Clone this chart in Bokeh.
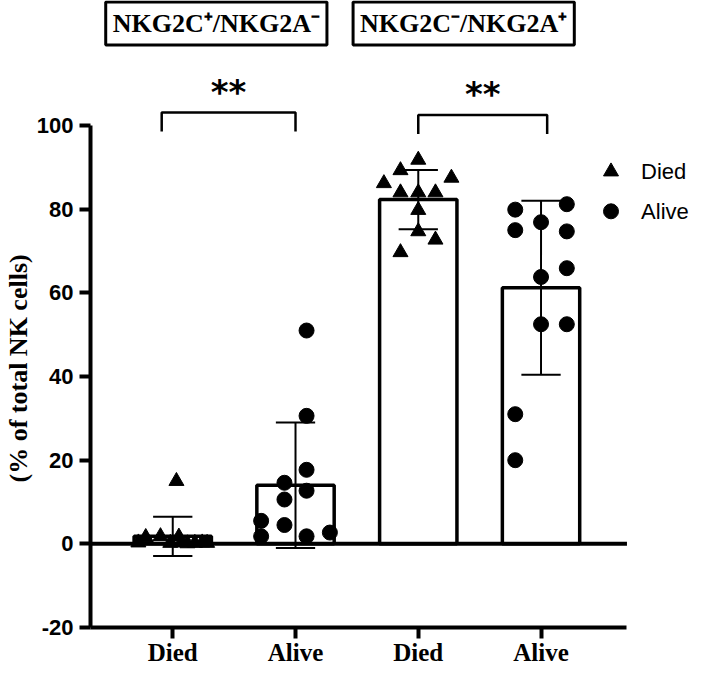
from bokeh.plotting import figure
from bokeh.models import Range1d, FixedTicker, Label, Title
from bokeh.embed import file_html
from bokeh.resources import INLINE

# ---------------- data ----------------
categories = ["Died", "Alive", "Died", "Alive"]
panel_titles = ["NKG2C\u207a/NKG2A\u207b", "NKG2C\u207b/NKG2A\u207a"]
y_ticks = [-20, 0, 20, 40, 60, 80, 100]
y_label = "(% of total NK cells)"

bar_means = [1.8, 14.0, 82.3, 61.2]
bar_sds = [4.7, 15.0, 7.1, 20.8]

# individual values (percent of total NK cells)
died_c_vals = [15.0, 1.6, 1.8, 1.7, 0.3, 0.2, 0.3, 0.1, 0.2, 0.3, 0.2]
died_c_jit = [0.03, -0.22, -0.10, 0.05, -0.28, -0.02, 0.07, 0.12, 0.18, 0.24, 0.28]
alive_c_vals = [51.0, 30.6, 17.7, 14.6, 12.7, 10.6, 5.5, 4.5, 1.8, 1.8, 2.7]
alive_c_jit = [0.09, 0.09, 0.09, -0.09, 0.09, -0.09, -0.28, -0.09, -0.28, 0.09, 0.28]
died_a_vals = [91.8, 89.3, 86.2, 87.5, 84.0, 84.0, 84.0, 79.8, 74.7, 72.7, 69.7]
died_a_jit = [0.0, -0.145, -0.28, 0.27, -0.145, 0.0, 0.14, 0.0, 0.0, 0.14, -0.145]
alive_a_vals = [81.2, 79.9, 76.9, 75.0, 74.7, 65.9, 63.8, 52.5, 52.5, 31.0, 20.0]
alive_a_jit = [0.21, -0.21, 0.0, -0.21, 0.21, 0.21, 0.0, 0.0, 0.21, -0.21, -0.21]

sig_left = [-0.09, 2.0]
sig_right = [1.0, 3.05]
sig_top = [103.1, 102.5]
sig_labels = ["**", "**"]

legend_labels = ["Died", "Alive"]

# ---------------- figure ----------------
BLACK = "#000000"
X_LO, X_HI = -0.67, 3.70      # extent of the drawn x axis
Y_LO, Y_HI = -20, 100         # extent of the drawn y axis

p = figure(width=693, height=668,
           min_border_left=84, min_border_right=0,
           min_border_top=0, min_border_bottom=40,
           x_range=Range1d(X_LO, 4.242), y_range=Range1d(Y_LO, 129.9),
           output_backend="svg", toolbar_location=None,
           background_fill_color="white", border_fill_color="white")
p.outline_line_color = None
p.grid.visible = False

xs = list(range(len(categories)))

# bars
p.vbar(x=xs, top=bar_means, bottom=0, width=0.63, fill_color="white",
       line_color=BLACK, line_width=3.5)

# zero line across the axis extent
p.segment(x0=[X_LO], y0=[0], x1=[X_HI], y1=[0], line_color=BLACK, line_width=4)

# error bars (mean +/- SD)
lo = [m - s for m, s in zip(bar_means, bar_sds)]
hi = [m + s for m, s in zip(bar_means, bar_sds)]
p.segment(x0=xs, y0=lo, x1=xs, y1=hi, line_color=BLACK, line_width=2)
cap = 0.16
p.segment(x0=[x - cap for x in xs], y0=hi, x1=[x + cap for x in xs], y1=hi,
          line_color=BLACK, line_width=2)
p.segment(x0=[x - cap for x in xs], y0=lo, x1=[x + cap for x in xs], y1=lo,
          line_color=BLACK, line_width=2)

# points
p.scatter(x=[0 + j for j in died_c_jit], y=died_c_vals, marker="triangle",
          size=15, fill_color=BLACK, line_color=BLACK)
p.scatter(x=[1 + j for j in alive_c_jit], y=alive_c_vals, marker="circle",
          size=15, fill_color=BLACK, line_color=BLACK)
p.scatter(x=[2 + j for j in died_a_jit], y=died_a_vals, marker="triangle",
          size=15, fill_color=BLACK, line_color=BLACK)
p.scatter(x=[3 + j for j in alive_a_jit], y=alive_a_vals, marker="circle",
          size=15, fill_color=BLACK, line_color=BLACK)

# significance brackets
for a, b, h, lab in zip(sig_left, sig_right, sig_top, sig_labels):
    leg = 4.5
    p.line(x=[a, a, b, b], y=[h - leg, h, h, h - leg], line_color=BLACK, line_width=2.5)
    p.add_layout(Label(x=(a + b) / 2, y=h + 5.0, text=lab, text_align="center",
                       text_baseline="middle", text_font="DejaVu Sans",
                       text_font_style="bold", text_font_size="34px", text_color=BLACK))

# panel titles (boxed)
title_x = [0.355, 2.37]
for tx, t in zip(title_x, panel_titles):
    p.add_layout(Label(x=tx, y=124.4, text=t, text_align="center",
                       text_baseline="middle", text_font="Liberation Serif",
                       text_font_style="bold", text_font_size="26px", text_color=BLACK,
                       border_line_color=BLACK, border_line_width=3,
                       background_fill_color="white", padding=7))

# legend
leg_x = 3.57
leg_y = [89.0, 79.5]
p.scatter(x=[leg_x], y=[leg_y[0]], marker="triangle", size=15, fill_color=BLACK, line_color=BLACK)
p.scatter(x=[leg_x], y=[leg_y[1]], marker="circle", size=15, fill_color=BLACK, line_color=BLACK)
for lab, yy in zip(legend_labels, leg_y):
    p.add_layout(Label(x=3.815, y=yy, text=lab, text_align="left", text_baseline="middle",
                       text_font="Liberation Sans", text_font_size="22px",
                       text_color=BLACK))

# axes
p.xaxis.ticker = FixedTicker(ticks=xs)
p.xaxis.major_label_overrides = {i: c for i, c in enumerate(categories)}
p.xaxis.major_label_text_font = "Liberation Serif"
p.xaxis.major_label_text_font_style = "bold"
p.xaxis.major_label_text_font_size = "25px"
p.xaxis.major_label_standoff = 0
p.xaxis.bounds = (X_LO, X_HI)
p.yaxis.ticker = FixedTicker(ticks=y_ticks)
p.yaxis.major_label_overrides = {t: str(t) for t in y_ticks}
p.yaxis.major_label_text_font = "Liberation Sans"
p.yaxis.major_label_text_font_style = "bold"
p.yaxis.major_label_text_font_size = "22px"
p.yaxis.major_label_standoff = 6
p.yaxis.bounds = (Y_LO, Y_HI)
for ax in (p.xaxis, p.yaxis):
    ax.axis_line_width = 4
    ax.axis_line_color = BLACK
    ax.major_tick_line_width = 4
    ax.major_tick_line_color = BLACK
    ax.major_tick_out = 11
    ax.major_tick_in = 0
    ax.minor_tick_line_color = None
    ax.major_label_text_color = BLACK

# y-axis title placed beside the axis, centred on the drawn axis extent
p.add_layout(Title(text=y_label, align="left", offset=145, standoff=2,
                   text_font="Liberation Serif", text_font_style="bold",
                   text_font_size="26px", text_color=BLACK), "left")

open("out.html", "w").write(file_html(p, INLINE))
